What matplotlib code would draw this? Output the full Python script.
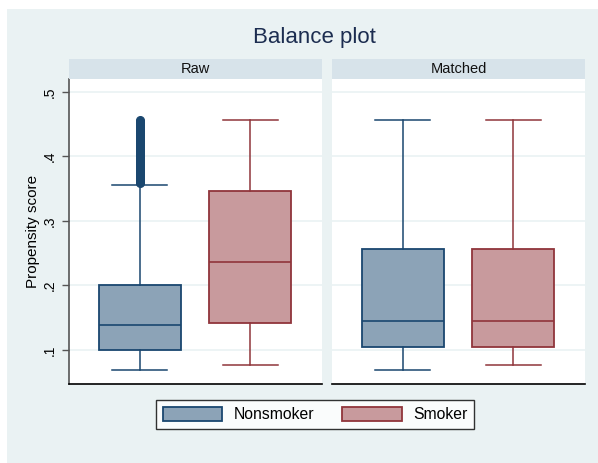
import matplotlib.pyplot as plt
from matplotlib.patches import Patch, Rectangle

plt.rcParams['font.family'] = ['Liberation Sans', 'DejaVu Sans']

panels = ["Raw", "Matched"]
groups = ["Nonsmoker", "Smoker"]

# box stats per panel: [nonsmoker, smoker] as (low whisker, q1, median, q3, high whisker)
raw_nonsmoker = [0.069, 0.100, 0.139, 0.201, 0.356]
raw_smoker = [0.076, 0.141, 0.236, 0.346, 0.457]
matched_nonsmoker = [0.069, 0.105, 0.145, 0.256, 0.457]
matched_smoker = [0.076, 0.105, 0.145, 0.256, 0.457]

# outliers above the upper whisker (raw nonsmokers)
raw_nonsmoker_out = [0.358, 0.361, 0.364, 0.367, 0.370, 0.373, 0.376, 0.379, 0.382,
                     0.385, 0.388, 0.391, 0.394, 0.397, 0.400, 0.403, 0.406, 0.409,
                     0.412, 0.415, 0.418, 0.421, 0.424, 0.427, 0.430, 0.433, 0.436,
                     0.439, 0.442, 0.445, 0.448, 0.451, 0.454, 0.457]

yticks = [0.1, 0.2, 0.3, 0.4, 0.5]
ytick_labels = [".1", ".2", ".3", ".4", ".5"]

edge = ["#1a476f", "#90353b"]
fill = ["#8ca3b7", "#c89a9d"]
bg = "#eaf2f3"

fig = plt.figure(figsize=(5.98, 4.63), dpi=100)
fig.patches.append(Rectangle((7 / 598, 0), 1, 1 - 9 / 463, transform=fig.transFigure,
                             facecolor=bg, edgecolor="none", zorder=-10))


def stats(v, label, fl=None):
    return dict(whislo=v[0], q1=v[1], med=v[2], q3=v[3], whishi=v[4],
                fliers=fl if fl else [], label=label)


data = [
    [stats(raw_nonsmoker, groups[0], raw_nonsmoker_out), stats(raw_smoker, groups[1])],
    [stats(matched_nonsmoker, groups[0]), stats(matched_smoker, groups[1])],
]

positions = [0.28, 0.717]
lefts = [69 / 598, 332 / 598]
w = 253 / 598
b = 1 - 384 / 463
h = 305 / 463

for i, name in enumerate(panels):
    ax = fig.add_axes([lefts[i], b, w, h])
    ax.set_facecolor("white")
    for j in range(2):
        ax.bxp([data[i][j]], positions=[positions[j]], widths=0.324, patch_artist=True,
               showfliers=True,
               boxprops=dict(facecolor=fill[j], edgecolor=edge[j], linewidth=1.3),
               medianprops=dict(color=edge[j], linewidth=1.2),
               whiskerprops=dict(color=edge[j], linewidth=1.1),
               capprops=dict(color=edge[j], linewidth=1.1),
               capwidths=0.217,
               flierprops=dict(marker="o", markersize=5.5, markerfacecolor=edge[j],
                               markeredgecolor=edge[j]))
    ax.set_xlim(0, 1)
    ax.set_ylim(0.047, 0.52)
    ax.set_xticks([])
    ax.set_yticks(yticks)
    ax.grid(axis="y", color=bg, linewidth=1.2)
    ax.set_axisbelow(True)
    for s in ["top", "right"]:
        ax.spines[s].set_visible(False)
    ax.spines["bottom"].set_color("black")
    ax.spines["bottom"].set_linewidth(1.2)
    if i == 0:
        ax.spines["left"].set_color("#555555")
        ax.spines["left"].set_linewidth(1.2)
        ax.set_yticklabels(ytick_labels, rotation=90, va="center", fontsize=10)
        ax.tick_params(axis="y", length=5, width=1, color="#555555", pad=4)
        ax.set_ylabel("Propensity score", fontsize=11, labelpad=2)
    else:
        ax.spines["left"].set_visible(False)
        ax.tick_params(axis="y", length=0, labelleft=False)

    sax = fig.add_axes([lefts[i], b + h, w, 20 / 463])
    sax.set_facecolor("#d7e3ea")
    sax.set_xticks([])
    sax.set_yticks([])
    for s in sax.spines.values():
        s.set_visible(False)
    sax.text(0.5, 0.5, name, ha="center", va="center", fontsize=10.5, color="#111111")

fig.text(314.5 / 598, 1 - 38 / 463, "Balance plot", ha="center", va="center",
         fontsize=16, color="#1c2d50")

handles = [Patch(facecolor=fill[k], edgecolor=edge[k], linewidth=1.3, label=groups[k])
           for k in range(2)]
leg = fig.legend(handles=handles, loc="center", ncol=2,
                 bbox_to_anchor=(315 / 598, 1 - 414.5 / 463),
                 fontsize=11.3, frameon=True, fancybox=False, edgecolor="black",
                 handlelength=3.8, handleheight=1.0, columnspacing=1.8,
                 handletextpad=0.7, borderpad=0.45)
leg.get_frame().set_linewidth(1.0)

fig.savefig("out.png", dpi=100, facecolor="white")
